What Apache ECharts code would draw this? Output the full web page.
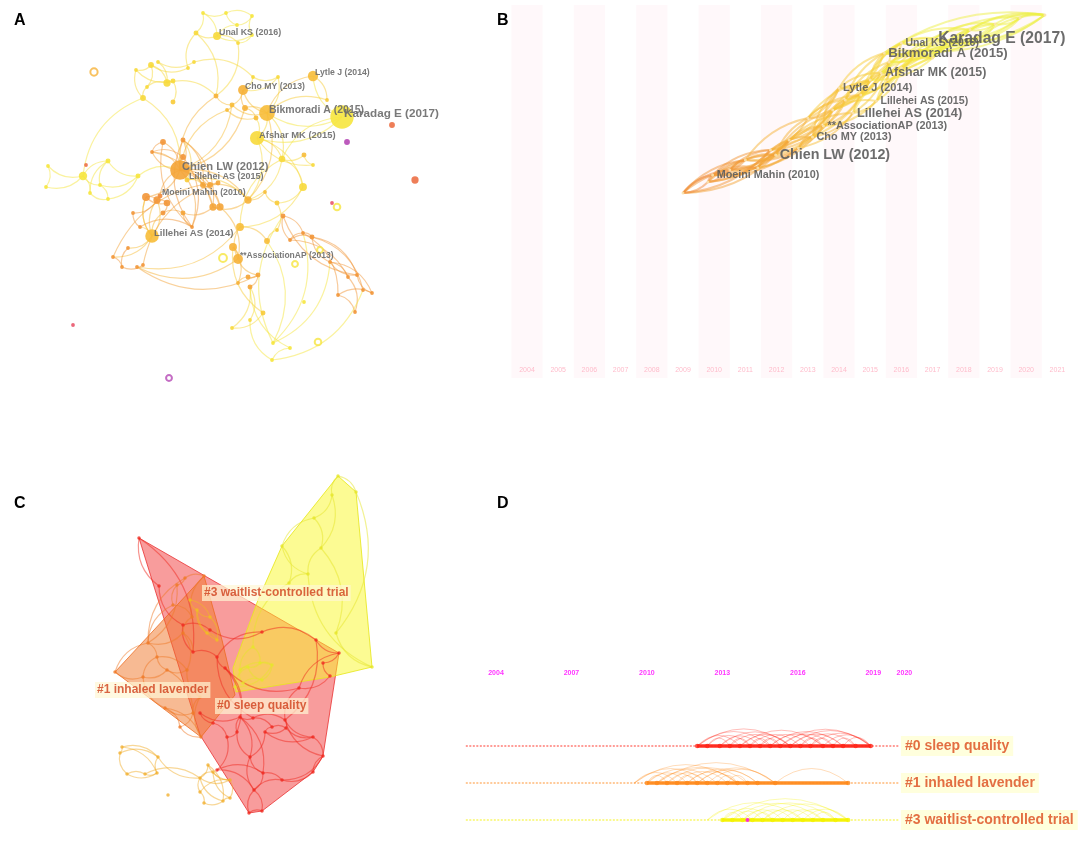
<!DOCTYPE html>
<html><head><meta charset="utf-8">
<script src="https://cdn.jsdelivr.net/npm/echarts@6/dist/echarts.min.js"></script>
<style>html,body{margin:0;padding:0;background:#fff}#c{width:1084px;height:842px}</style>
</head><body><div id="c"></div>
<script>
// ================= DATA =================
// Panel A: co-citation network. node = [x, y, year, citations]
const aNodes = [
 [217,36,2016,6],[313,76,2014,11],[243,90,2013,10],[267,113,2014,28],[342,117,2017,64],
 [257,138,2016,22],[180,170,2012,44],[187,180,2015,2],[160,196,2010,2],[152,236,2014,20],
 [238,259,2013,10],
 [203,13,2017,1],[226,13,2017,1],[252,16,2017,1],[237,25,2017,1],[196,33,2016,2],[252,35,2017,1],[238,43,2016,1],
 [136,70,2016,1],[151,65,2016,3],[158,62,2016,1],[173,81,2016,2],[167,83,2016,5],[194,62,2016,1],[188,68,2016,1],
 [143,98,2016,3],[147,87,2016,1],[173,102,2015,2],[216,96,2013,2],
 [227,110,2014,1],[232,105,2014,2],[245,108,2013,3],[256,118,2014,2],[253,77,2016,1],[278,77,2016,1],[327,100,2015,1],
 [392,125,2009,3],[347,142,2005,3],[415,180,2009,5],
 [282,159,2016,4],[304,155,2014,2],[303,187,2016,6],[313,165,2016,1],[332,203,2008,1],[277,203,2015,2],[265,192,2014,1],
 [248,200,2013,5],[213,207,2012,5],[220,207,2012,5],[240,227,2014,6],[267,241,2014,3],[277,230,2015,1],
 [83,176,2017,7],[108,161,2017,2],[138,176,2017,2],[108,199,2017,1],[90,193,2017,1],[48,166,2017,1],[46,187,2017,1],
 [86,165,2009,1],[100,185,2017,1],
 [146,197,2011,6],[157,200,2011,5],[167,203,2011,4],[133,213,2011,1],[140,227,2011,1],[163,213,2011,2],[183,213,2012,2],
 [192,227,2011,1],[163,142,2011,3],[152,152,2011,1],[183,157,2011,3],[183,140,2011,2],[203,185,2012,3],[210,185,2012,3],
 [218,183,2012,2],
 [113,257,2011,1],[128,248,2011,1],[143,265,2011,1],[122,267,2011,1],[137,267,2011,1],
 [233,247,2013,6],[238,283,2013,1],[248,277,2012,2],[258,275,2012,2],[250,287,2012,2],[263,313,2015,2],[232,328,2016,1],
 [250,320,2016,1],[272,360,2017,1],[290,348,2017,1],[273,343,2017,1],
 [283,216,2011,2],[290,240,2011,1],[303,233,2011,1],[312,237,2011,2],[330,262,2011,1],[348,277,2011,1],[357,275,2011,1],
 [338,295,2011,1],[372,293,2011,1],[355,312,2011,1],[363,290,2011,1],[304,302,2017,1],[73,325,2008,1]
];
const aRings = [[94,72,2013,5],[223,258,2017,6],[337,207,2017,4],[295,264,2017,3],[318,342,2017,4],[169,378,2005,3],[320,250,2017,3]];
const aLinks = [
 [11,12],[12,13],[11,15],[15,0],[0,14],[14,12],[0,16],[16,13],[0,17],[17,16],[13,14],[11,0],
 [15,24],[24,19],[19,18],[18,25],[19,22],[22,21],[20,23],[20,22],[21,27],[26,25],[26,22],[19,26],[18,21],[25,6],
 [22,28],[28,30],[23,33],[33,2],[2,34],[34,3],[34,33],[2,31],[31,3],[30,29],[29,32],[32,5],[3,5],[3,4],[4,1],[1,35],
 [35,3],[3,39],[5,39],[5,42],[42,40],[40,39],[2,3],[31,32],[6,29],[6,30],[6,47],[6,48],[6,72],[6,73],[6,74],[6,70],
 [6,68],[6,71],[6,69],[6,61],[61,62],[61,63],[62,63],[63,66],[64,65],[65,68],[66,67],[67,68],[62,9],[9,66],[9,65],
 [9,76],[76,75],[75,78],[78,79],[79,77],[77,9],[76,79],[68,69],[69,70],[70,71],[71,68],[7,72],[7,73],[72,73],[73,74],
 [74,46],[46,47],[47,48],[48,10],[10,80],[80,49],[49,50],[50,51],[51,44],[44,45],[45,46],[46,39],[39,41],[41,44],
 [10,81],[81,82],[82,83],[83,84],[84,85],[85,87],[87,86],[86,81],[85,88],[88,89],[89,90],[90,85],[10,84],[50,91],
 [91,92],[92,93],[93,94],[94,95],[95,96],[96,97],[97,101],[101,99],[99,100],[100,98],[98,95],[98,96],[96,100],
 [91,94],[92,94],[93,95],[102,95],[102,89],[52,53],[53,54],[54,55],[55,56],[56,52],[52,57],[52,58],[53,60],[60,55],
 [54,60],[52,60],[54,6],[57,58],[53,56],[52,25],[4,5],[4,39],[47,67],[70,47],[8,9],[5,46],[2,30],[28,6],[15,28],
 [3,30],[39,49],[5,41],[41,49],[1,3],[17,28],[8,6],[61,9],[7,46],[6,46],[6,31],[3,46],[10,49],[80,84],[9,61],[62,64],
 [91,96],[93,97],[94,99],[92,98],[72,47],[73,48],[70,6],[68,72]
];
const aLabels = [[0,'Unal KS (2016)'],[1,'Lytle J (2014)'],[2,'Cho MY (2013)'],[3,'Bikmoradi A (2015)'],
 [4,'Karadag E (2017)'],[5,'Afshar MK (2015)'],[6,'Chien LW (2012)'],[7,'Lillehei AS (2015)'],
 [8,'Moeini Mahin (2010)'],[9,'Lillehei AS (2014)'],[10,'**AssociationAP (2013)']];

// Panel B: timezone view. node = [time position (year), vertical position, year, citations]
const bYears = [2004,2005,2006,2007,2008,2009,2010,2011,2012,2013,2014,2015,2016,2017,2018,2019,2020,2021];
const bNodes = [
 [2009.95,175,2010,3],[2011.97,155,2012,5],[2013.15,137,2013,3],[2013.5,126,2013,3],[2014.45,113,2014,3],
 [2014.0,88,2014,2],[2015.2,101,2015,2],[2015.35,73,2015,3],[2015.45,53,2015,3],[2016.0,43,2016,2],[2017.05,39,2017,4],
 [2009.0,193,2009,1],[2009.8,182,2010,1],[2010.5,170,2010,1],[2011.0,160,2011,1],[2011.4,168,2011,1],[2011.8,150,2011,1],
 [2012.4,140,2012,1],[2012.7,148,2012,1],[2013.0,118,2013,1],[2013.8,110,2013,1],[2014.2,100,2014,1],[2014.7,95,2014,1],
 [2015.0,80,2015,1],[2015.6,62,2015,1],[2016.0,68,2016,1],[2016.5,50,2016,1],[2017.5,42,2017,1],[2018.2,30,2018,1],
 [2019.0,24,2019,1],[2019.8,18,2019,1],[2020.6,15,2020,1],[2017.0,58,2017,1],[2018.5,38,2018,1]
];
const bLinks = [
 [11,13],[11,1],[12,14],[12,16],[0,15],[0,1],[13,16],[13,17],[14,1],[14,18],[15,2],[16,19],[1,3],[1,17],[1,19],
 [17,20],[18,2],[2,4],[2,21],[3,22],[3,5],[19,5],[19,21],[20,23],[20,6],[4,6],[4,7],[21,7],[21,24],[5,23],[5,8],
 [22,24],[22,9],[6,25],[23,8],[23,26],[7,26],[7,10],[24,9],[24,27],[8,32],[8,28],[25,27],[25,10],[9,28],[26,29],
 [32,33],[10,30],[10,29],[27,31],[28,31],[33,30],[29,31],[9,31],[8,31],[26,31],[12,0],[0,18],[15,17],[16,3],[17,4],
 [18,20],[2,5],[3,21],[19,23],[20,7],[21,8],[22,25],[6,32],[7,9],[11,0],[12,13],
 [11,14],[11,16],[12,1],[12,17],[0,16],[0,17],[13,1],[13,18],[14,19],[14,2],[15,1],[15,3],[16,2],[16,20],[1,20],
 [1,21],[17,3],[17,5],[18,3],[18,4],[19,22],[19,20],[2,22],[2,23],[3,23],[3,6],[20,22],[20,8],[5,7],[5,24],[21,23],
 [21,25],[4,25],[4,24],[22,7],[22,26],[23,9],[23,32],[6,26],[6,24],[7,32],[7,27],[8,10],[8,26],[24,32],[24,28],
 [9,27],[9,10],[25,32],[25,26],[26,27],[26,33],[32,28],[10,33],[10,28],[27,33],[27,29],[28,29],[28,30],[33,29],
 [33,31],[29,30],[30,31],[26,28],[32,29],[8,30],[7,31],[11,12],[11,15],[0,14],[13,14]
];
const bLabels = [[0,'Moeini Mahin (2010)'],[1,'Chien LW (2012)'],[2,'Cho MY (2013)'],[3,'**AssociationAP (2013)'],
 [4,'Lillehei AS (2014)'],[5,'Lytle J (2014)'],[6,'Lillehei AS (2015)'],[7,'Afshar MK (2015)'],
 [8,'Bikmoradi A (2015)'],[9,'Unal KS (2016)'],[10,'Karadag E (2017)']];

// Panel C: cluster view. node = [x, y, cluster]
const cNodes = [
 [338,476,3],[356,492,3],[332,495,3],[314,518,3],[282,546,3],[321,548,3],[308,574,3],[289,583,3],[336,633,3],[372,667,3],
 [240,670,3],[248,667,3],[260,663,3],[272,665,3],[243,683,3],[262,680,3],[253,647,3],[235,687,3],
 [139,538,0],[159,586,0],[339,653,0],[316,640,0],[323,663,0],[330,676,0],[299,688,0],[262,632,0],[217,657,0],[225,668,0],
 [240,717,0],[253,718,0],[285,720,0],[286,728,0],[313,737,0],[323,756,0],[313,772,0],[282,780,0],[263,773,0],[250,757,0],
 [265,732,0],[272,727,0],[237,732,0],[227,737,0],[254,790,0],[262,811,0],[249,813,0],[217,770,0],[200,713,0],[213,723,0],
 [183,625,0],[193,652,0],[210,630,0],
 [204,576,1],[185,578,1],[177,585,1],[173,605,1],[183,633,1],[192,617,1],[148,643,1],[157,657,1],[167,670,1],[115,672,1],
 [143,677,1],[165,708,1],[180,727,1],[201,737,1],[193,713,1],[187,670,1],[200,697,1],
 [197,610,8],[210,617,8],[217,640,8],[207,633,8],[190,600,8],
 [122,747,9],[120,753,9],[127,774,9],[145,774,9],[157,773,9],[158,757,9],[168,795,9],[200,778,9],[213,772,9],[200,792,9],
 [204,803,9],[223,801,9],[230,798,9],[230,780,9],[208,765,9]
];
const cLinks = [
 [0,1],[0,2],[2,3],[3,4],[3,5],[5,6],[4,7],[6,7],[1,8],[8,9],[5,8],[4,6],[2,5],[7,16],[10,11],[11,12],[12,13],[10,14],
 [14,15],[15,13],[16,12],[16,10],[17,11],[17,13],[10,13],[11,15],[9,6],
 [18,19],[18,49],[19,48],[48,50],[50,25],[25,21],[21,20],[20,22],[22,23],[23,24],[24,30],[30,31],[31,32],[32,33],[33,34],
 [34,35],[35,36],[36,37],[37,38],[38,39],[39,29],[29,28],[28,40],[40,41],[41,47],[47,46],[46,28],[42,43],[43,44],[44,42],
 [37,42],[36,42],[45,41],[45,42],[26,27],[27,28],[26,49],[49,48],[27,24],[29,30],[38,32],[39,31],[40,37],[28,36],[30,33],
 [24,20],[25,26],[21,30],[35,42],[31,38],[26,29],[27,40],[30,32],[33,35],[36,45],[28,37],
 [51,52],[52,53],[53,54],[54,56],[56,55],[55,49],[51,56],[57,58],[58,59],[59,61],[60,61],[60,57],[61,62],[62,63],[63,64],
 [64,67],[67,65],[65,62],[66,67],[66,59],[57,55],[58,66],[54,57],[53,57],[63,65],[59,65],[58,61],[62,64],[52,57],[55,66],
 [68,69],[69,70],[70,71],[71,68],[72,68],[72,69],[68,70],
 [73,74],[74,75],[75,76],[76,77],[77,78],[78,73],[73,77],[75,77],[74,78],[78,80],[80,81],[81,86],[86,85],[85,84],[84,83],
 [83,82],[82,80],[80,86],[82,86],[81,85],[87,80],[87,86],[87,84],[80,84],[76,80]
];
const cHullRed = [[139,538],[339,653],[323,756],[313,772],[262,811],[249,813],[200,735]];
const cHullOrange = [[204,576],[222,640],[235,695],[201,737],[115,672]];
const cHullYellow = [[338,476],[356,492],[372,667],[330,677],[236,692],[233,668],[258,600],[282,546]];
const cLabels = [['#3 waitlist-controlled trial',202,593],['#1 inhaled lavender',95,690],['#0 sleep quality',215,706]];

// Panel D: timeline view
const dTickYears = [2004,2007,2010,2013,2016,2019,2020];
const dSpan = [2002.8, 2020.0];
const dClusterNames = ['#0 sleep quality','#1 inhaled lavender','#3 waitlist-controlled trial'];
const d0Years = [2012.0,2012.4,2012.9,2013.3,2013.7,2014.1,2014.5,2014.9,2015.3,2015.7,2016.1,2016.5,2017.0,2017.4,2017.8,2018.3,2018.9];
const d0Arcs = [[0,4],[0,7],[1,5],[2,6],[3,8],[4,9],[5,10],[6,11],[7,12],[8,13],[9,14],[10,15],[11,16],[2,9],[4,12],[7,14],
 [8,16],[9,16],[3,5],[6,8],[10,12],[13,15],[14,16],[1,3],[5,7],[11,13],[0,9],[12,16]];
const d1Years = [2009.5,2010.0,2010.4,2010.8,2011.2,2011.6,2012.0,2012.4,2012.8,2013.2,2013.6,2014.0,2014.4,2015.1,2018.0];
const d1Arcs = [[0,4],[0,7],[1,5],[1,8],[2,6],[2,10],[3,7],[3,11],[4,9],[5,10],[6,12],[7,13],[1,3],[4,6],[8,10],[9,11],
 [0,10],[2,13],[5,12],[6,13],[13,14]];
const d3Years = [2012.4,2013.0,2013.4,2013.8,2014.2,2014.6,2015.0,2015.4,2015.8,2016.2,2016.6,2017.0,2017.5,2018.0];
const d3Arcs = [[0,4],[0,9],[1,3],[1,6],[2,5],[3,7],[4,8],[5,9],[6,10],[7,11],[8,12],[9,13],[2,11],[3,12],[5,13],[1,13],
 [4,6],[10,12]];
const dThickStart = [2012.0, 2010.0, 2013.0];
const dBurst = [[2014.0, 2]];

// ================= STYLE / LAYOUT =================
const yearColors = {2005:'#b548b5',2008:'#e9566c',2009:'#ec7046',2010:'#ef8a3c',2011:'#f29638',2012:'#f4a437',
 2013:'#f6b137',2014:'#f7bd38',2015:'#f8cb38',2016:'#f7d93b',2017:'#f6e53e',2018:'#f3ee40',2019:'#f0ef42',2020:'#eeef44'};
const yc = y => yearColors[y] || '#f5c040';
const aLabelFont = [8.9,8.7,8.7,10.5,11.7,9.4,11.2,9.0,8.8,9.6,8.5];
const bLabelFont = [10.8,14.3,10.9,10.9,12.7,11,10.6,12.4,13.2,10.5,15.7];
const clusterColor = {0:'#f02a20',1:'#f07a28',3:'#e6e62a',8:'#f0c020',9:'#f2b030'};
const dColors = ['#ff2418','#ff8a1c','#f4f200'];
const dRowY = [746,783,820];
const FONT = 'Arial, "Liberation Sans", Helvetica, sans-serif';
const nodeSize = c => 1 + Math.sqrt(c) * 2.8;

const grids = [
 {left:0, top:0, width:460, height:390},
 {left:511.4, top:0, width:561.6, height:390},
 {left:0, top:460, width:420, height:382},
 {left:458.275, top:650, width:477.85, height:192}
];
const xAxes = [
 {gridIndex:0,type:'value',min:0,max:460,show:false},
 {gridIndex:1,type:'value',min:2003.5,max:2021.5,show:false},
 {gridIndex:2,type:'value',min:0,max:420,show:false},
 {gridIndex:3,type:'value',min:2002.5,max:2021.5,show:false}
];
const yAxes = [
 {gridIndex:0,type:'value',min:0,max:390,inverse:true,show:false},
 {gridIndex:1,type:'value',min:0,max:390,inverse:true,show:false},
 {gridIndex:2,type:'value',min:460,max:842,inverse:true,show:false},
 {gridIndex:3,type:'value',min:650,max:842,inverse:true,show:false}
];

const series = [];
// ---------- A ----------
series.push({type:'lines',coordinateSystem:'cartesian2d',xAxisIndex:0,yAxisIndex:0,silent:true,z:2,clip:false,
 data:aLinks.map(([s,t],i)=>({coords:[[aNodes[s][0],aNodes[s][1]],[aNodes[t][0],aNodes[t][1]]],
   lineStyle:{color:yc(Math.max(aNodes[s][2],aNodes[t][2])),curveness:(i%3===0?-0.3:0.3)}})),
 lineStyle:{width:1.2,opacity:0.5}});
const aLabelMap = {}; aLabels.forEach(([i,t],k)=>aLabelMap[i]=[t,aLabelFont[k]]);
series.push({type:'scatter',xAxisIndex:0,yAxisIndex:0,silent:true,z:4,clip:false,
 data:aNodes.map((n,i)=>{const sz=nodeSize(n[3]);const item={value:[n[0],n[1]],symbolSize:sz,
   itemStyle:{color:yc(n[2]),opacity:0.9}};
   if(aLabelMap[i]) item.label={show:true,formatter:aLabelMap[i][0],position:[sz/2+2,sz/2-3],align:'left',
     verticalAlign:'middle',fontSize:aLabelMap[i][1],fontWeight:'bold',color:'#6a6a6a',fontFamily:FONT};
   return item;})});
series.push({type:'scatter',xAxisIndex:0,yAxisIndex:0,silent:true,z:3,clip:false,symbol:'circle',
 data:aRings.map(n=>({value:[n[0],n[1]],symbolSize:nodeSize(n[3]),
   itemStyle:{color:'#fff',borderColor:yc(n[2]),borderWidth:2}}))});

// ---------- B ----------
series.push({type:'custom',xAxisIndex:1,yAxisIndex:1,silent:true,z:0,clip:false,
 data:bYears.map(y=>[y,0]),
 renderItem:(p,api)=>{const y=api.value(0);const a=api.coord([y-0.5,5]);const b=api.coord([y+0.5,378]);
  const lab=api.coord([y,370]);const children=[];
  if(p.dataIndex%2===0) children.push({type:'rect',shape:{x:a[0],y:a[1],width:b[0]-a[0],height:b[1]-a[1]},
    style:{fill:'#fff8fa'}});
  children.push({type:'text',style:{text:String(y),x:lab[0],y:lab[1],align:'center',verticalAlign:'middle',
    fill:'#ffbccb',font:'7px '+FONT}});
  return {type:'group',children};}});
series.push({type:'lines',coordinateSystem:'cartesian2d',xAxisIndex:1,yAxisIndex:1,silent:true,z:2,clip:false,
 data:bLinks.map(([s,t],i)=>({coords:[[bNodes[s][0],bNodes[s][1]],[bNodes[t][0],bNodes[t][1]]],
   lineStyle:{color:yc(Math.max(bNodes[s][2],bNodes[t][2])),curveness:(i%2===0?0.2:-0.2)}})),
 lineStyle:{width:2,opacity:0.5}});
const bLabelMap = {}; bLabels.forEach(([i,t],k)=>bLabelMap[i]=[t,bLabelFont[k]]);
series.push({type:'scatter',xAxisIndex:1,yAxisIndex:1,silent:true,z:5,clip:false,
 data:bNodes.map((n,i)=>{const sz=3;const item={value:[n[0],n[1]],symbolSize:sz,
   itemStyle:{color:'#fbe3b0',opacity:0.9}};
   if(bLabelMap[i]) item.label={show:true,formatter:bLabelMap[i][0],position:[sz/2+4,sz/2],align:'left',
     verticalAlign:'middle',fontSize:bLabelMap[i][1],fontWeight:'bold',color:'#5c5c5c',fontFamily:FONT};
   return item;})});

// ---------- C ----------
const hulls = [
 {pts:cHullRed,fill:'rgba(242,58,58,0.5)',stroke:'rgba(232,40,40,0.75)'},
 {pts:cHullYellow,fill:'rgba(250,248,40,0.5)',stroke:'rgba(232,232,30,0.85)'},
 {pts:cHullOrange,fill:'rgba(240,118,40,0.5)',stroke:'rgba(236,104,28,0.75)'}
];
series.push({type:'custom',xAxisIndex:2,yAxisIndex:2,silent:true,z:1,clip:false,
 data:hulls.map(h=>h.pts[0]),
 renderItem:(p,api)=>{const h=hulls[p.dataIndex];
  return {type:'polygon',shape:{points:h.pts.map(q=>api.coord(q))},style:{fill:h.fill,stroke:h.stroke,lineWidth:1}};}});
series.push({type:'lines',coordinateSystem:'cartesian2d',xAxisIndex:2,yAxisIndex:2,silent:true,z:2,clip:false,
 data:cLinks.map(([s,t],i)=>({coords:[[cNodes[s][0],cNodes[s][1]],[cNodes[t][0],cNodes[t][1]]],
   lineStyle:{color:clusterColor[cNodes[s][2]],curveness:(i%2===0?0.3:-0.3)}})),
 lineStyle:{width:1.2,opacity:0.5}});
series.push({type:'scatter',xAxisIndex:2,yAxisIndex:2,silent:true,z:3,clip:false,symbolSize:3.5,
 data:cNodes.map(n=>({value:[n[0],n[1]],itemStyle:{color:clusterColor[n[2]]}}))});
series.push({type:'scatter',xAxisIndex:2,yAxisIndex:2,silent:true,z:6,clip:false,symbolSize:0,
 data:cLabels.map(l=>({value:[l[1],l[2]],label:{show:true,formatter:l[0]}})),
 label:{position:'right',distance:0,align:'left',verticalAlign:'middle',fontSize:12,fontWeight:'bold',
   color:'#cf3f1a',fontFamily:FONT,backgroundColor:'rgba(255,246,212,0.88)',padding:[2,2]}});

// ---------- D ----------
const dGroups = [[d0Years,d0Arcs],[d1Years,d1Arcs],[d3Years,d3Arcs]];
const pxPerYear = 25.15;
series.push({type:'scatter',xAxisIndex:3,yAxisIndex:3,silent:true,z:5,clip:false,symbolSize:0,
 data:dTickYears.map((y,i)=>({value:[y,673],label:{show:true,formatter:String(y),
   offset:[i===dTickYears.length-1?6:0,0]}})),
 label:{position:'inside',fontSize:7,fontWeight:'bold',color:'#ff00ff',fontFamily:FONT}});
series.push({type:'lines',coordinateSystem:'cartesian2d',xAxisIndex:3,yAxisIndex:3,silent:true,z:1,clip:false,
 data:dRowY.map((ry,k)=>({coords:[[dSpan[0],ry],[dSpan[1],ry]],lineStyle:{color:dColors[k]}})),
 lineStyle:{width:2,type:[2,1.5],opacity:0.45}});
const arcData=[], thickData=[], dotData=[];
dGroups.forEach(([yrs,arcs],k)=>{
  const ry=dRowY[k];
  arcs.forEach(([s,t])=>{const dx=Math.abs(yrs[t]-yrs[s])*pxPerYear;const h=5+0.13*dx;
    arcData.push({coords:[[yrs[s],ry],[yrs[t],ry]],lineStyle:{color:dColors[k],curveness:2*h/dx}});});
  for(let i=0;i<yrs.length-1;i++) if(yrs[i]>=dThickStart[k]-0.01)
    thickData.push({coords:[[yrs[i],ry],[yrs[i+1],ry]],lineStyle:{color:dColors[k]}});
  yrs.forEach(y=>{if(y>=dThickStart[k]-0.01) dotData.push({value:[y,ry],itemStyle:{color:dColors[k]}});});
});
series.push({type:'lines',coordinateSystem:'cartesian2d',xAxisIndex:3,yAxisIndex:3,silent:true,z:2,clip:false,
 data:arcData,lineStyle:{width:1,opacity:0.3}});
series.push({type:'lines',coordinateSystem:'cartesian2d',xAxisIndex:3,yAxisIndex:3,silent:true,z:3,clip:false,
 data:thickData,lineStyle:{width:3.5,opacity:0.95}});
series.push({type:'scatter',xAxisIndex:3,yAxisIndex:3,silent:true,z:4,clip:false,symbolSize:4.5,data:dotData});
series.push({type:'scatter',xAxisIndex:3,yAxisIndex:3,silent:true,z:5,clip:false,symbolSize:4,
 data:dBurst.map(b=>({value:[b[0],dRowY[b[1]]],itemStyle:{color:'#ff00ff'}}))});
series.push({type:'scatter',xAxisIndex:3,yAxisIndex:3,silent:true,z:6,clip:false,symbolSize:0,
 data:dClusterNames.map((n,k)=>({value:[2020.1,dRowY[k]],label:{show:true,formatter:n}})),
 label:{position:'right',distance:0,align:'left',verticalAlign:'middle',fontSize:14,fontWeight:'bold',
   color:'#dc4a1c',fontFamily:FONT,backgroundColor:'#ffffd4',padding:[3,4,3,4]}});

const letter = (t,l,tp)=>({text:t,left:l,top:tp,padding:0,textStyle:{fontSize:16,fontWeight:'bold',color:'#000',fontFamily:FONT}});
const chart = echarts.init(document.getElementById('c'),null,{renderer:'canvas'});
chart.setOption({
 animation:false, backgroundColor:'#ffffff',
 title:[letter('A',14,13),letter('B',497,13),letter('C',14,496),letter('D',497,496)],
 grid:grids, xAxis:xAxes, yAxis:yAxes, series:series
});
</script></body></html>
